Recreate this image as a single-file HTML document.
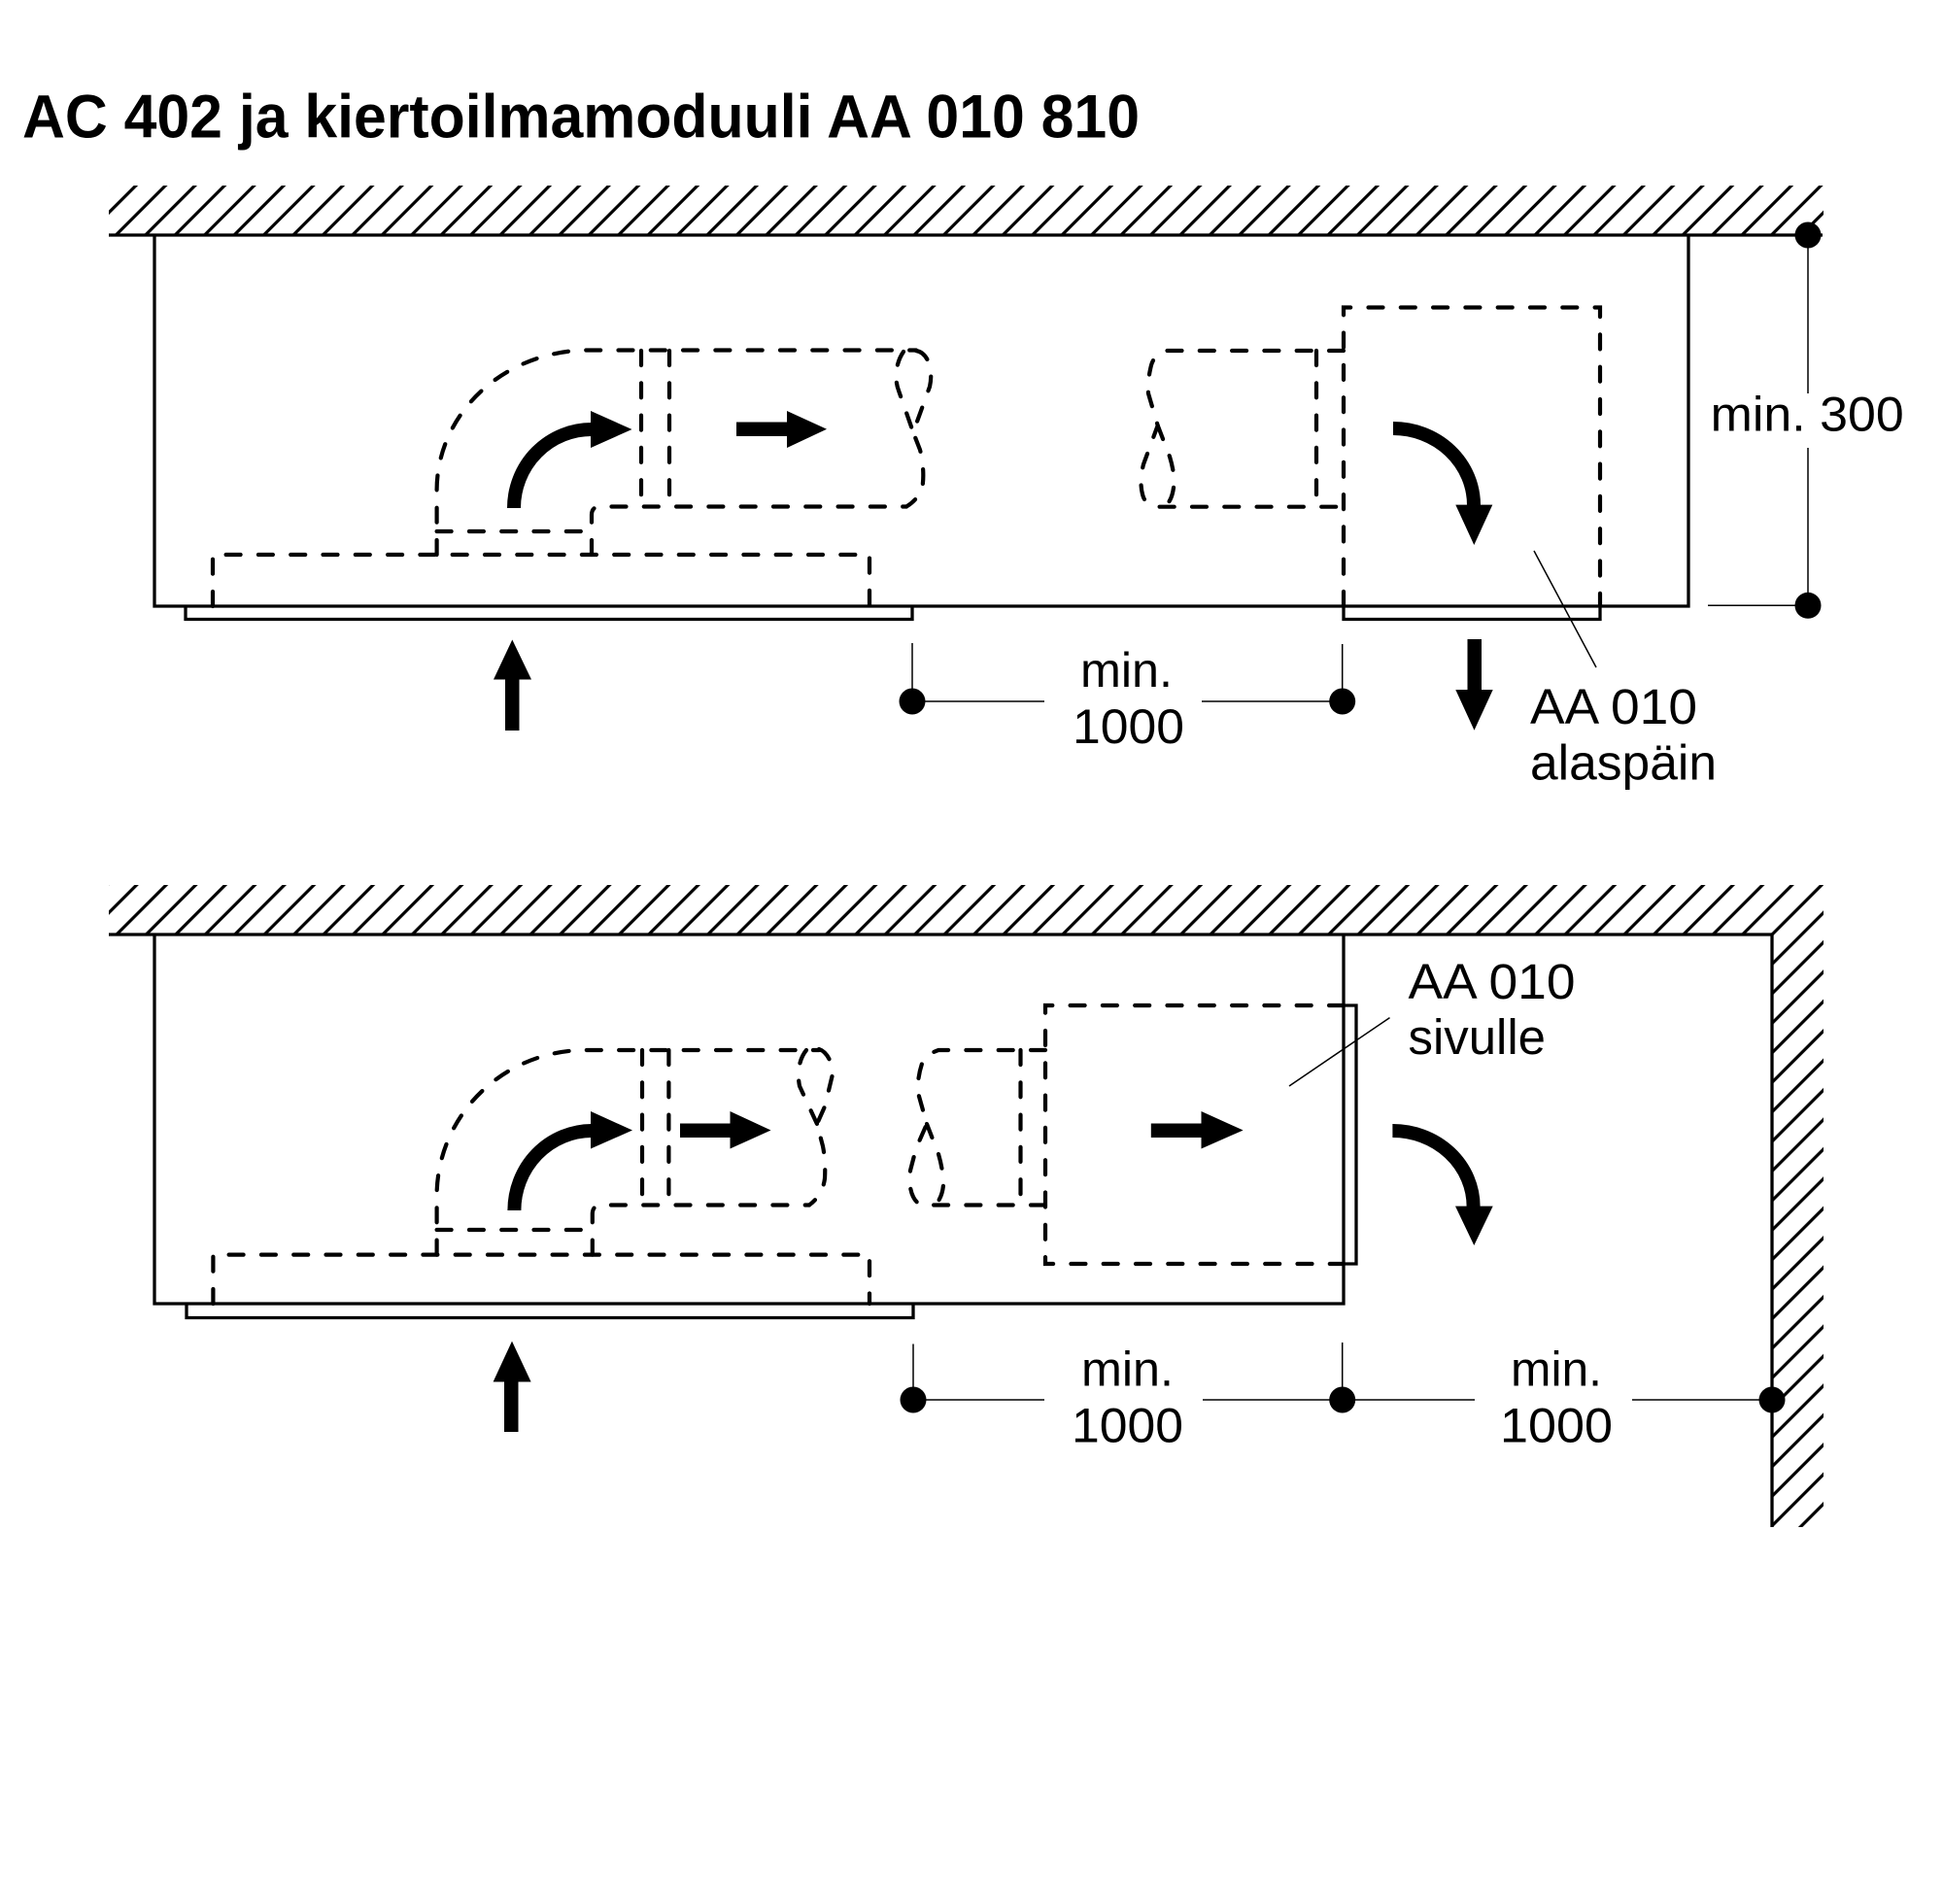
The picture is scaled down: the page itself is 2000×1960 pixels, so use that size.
<!DOCTYPE html>
<html>
<head>
<meta charset="utf-8">
<style>
html,body{margin:0;padding:0;background:#fff;}
svg{display:block;}
text{font-family:"Liberation Sans",Arial,sans-serif;fill:#000;}
</style>
</head>
<body>
<svg width="2000" height="1960" viewBox="0 0 2000 1960" xmlns="http://www.w3.org/2000/svg">
<defs>
  <pattern id="h1" patternUnits="userSpaceOnUse" x="26.57" y="0" width="30.43" height="30.43">
    <path d="M-3,3 L3,-3 M0,30.43 L30.43,0 M27.43,33.43 L33.43,27.43" stroke="#000" stroke-width="3.2" fill="none"/>
  </pattern>
  <pattern id="h2" patternUnits="userSpaceOnUse" x="16.95" y="0" width="30.43" height="30.43">
    <path d="M-3,3 L3,-3 M0,30.43 L30.43,0 M27.43,33.43 L33.43,27.43" stroke="#000" stroke-width="3.2" fill="none"/>
  </pattern>
</defs>

<rect width="2000" height="1960" fill="#fff"/>

<!-- Title -->
<text x="23" y="141.7" font-size="63" font-weight="bold" textLength="1150" lengthAdjust="spacingAndGlyphs">AC 402 ja kiertoilmamoduuli AA 010 810</text>

<!-- ================= TOP DIAGRAM ================= -->
<rect x="112" y="191" width="1765" height="51" fill="url(#h1)"/>

<g fill="none" stroke="#000" stroke-width="3.3">
  <path d="M112,242 H1876"/>
  <path d="M159,242 V624 H1738 V242"/>
  <path d="M191,624 V637.5 H939 V624"/>
  <path d="M1383,624 V637.5 H1647 V624"/>
</g>

<g fill="none" stroke="#000" stroke-width="4.2" stroke-linecap="round" stroke-dasharray="15 18.3">
  <path d="M219,624 V571 H895 V624"/>
  <path d="M449.6,547 H609"/>
  <path d="M449.6,571 V504 A156,144 0 0 1 606,360.5 H943"/>
  <path d="M609,571 V530 Q609,521.5 618,521.5 H933"/>
  <path d="M660,361 V521.5"/>
  <path d="M689,361 V521.5"/>
  <path d="M943,361 C955,363 961,380 957,398 L940,445 L947,463 C951,478 951,495 949,503 Q944,515 933,521.5"/>
  <path d="M930,362 C921,375 921,392 925,402 L940,445"/>
  <path d="M1383,361 H1200 Q1188,365 1185,376 Q1181,392 1182,405 L1191.7,438 L1177,478 Q1172,498 1177,512 Q1181,521.7 1195,521.7 H1383"/>
  <path d="M1191.7,438 L1204,470 Q1210,490 1208,502 Q1206,517 1198,521.7"/>
  <path d="M1355,361 V521.5"/>
  <path d="M1383,624 V316.5 H1647 V624"/>
</g>

<g fill="#000">
  <path d="M529,523 A80,81 0 0 1 609,442" fill="none" stroke="#000" stroke-width="14"/>
  <polygon points="608,423 650.5,442 608,461"/>
  <rect x="758" y="434.5" width="53" height="14.5"/>
  <polygon points="810,423 851,441.7 810,461"/>
  <path d="M1434,441 A83,79 0 0 1 1517,520" fill="none" stroke="#000" stroke-width="14"/>
  <polygon points="1498.3,519.6 1536.3,519.6 1517.3,561"/>
  <rect x="1510.5" y="658" width="14.5" height="53"/>
  <polygon points="1498.3,710 1536.7,710 1517.5,751.7"/>
  <rect x="520" y="698" width="14.5" height="54"/>
  <polygon points="508,699.5 547,699.5 527.3,658.5"/>
</g>

<g fill="none" stroke="#000" stroke-width="1.5">
  <path d="M939,662 V722 H1075"/>
  <path d="M1237,722 H1381.7 V663"/>
  <path d="M1861,242 V405"/>
  <path d="M1861,461 V623"/>
  <path d="M1758,623.3 H1861"/>
  <path d="M1579,567 L1643,687"/>
</g>
<g fill="#000">
  <circle cx="939" cy="722" r="13.5"/>
  <circle cx="1381.7" cy="722" r="13.5"/>
  <circle cx="1861" cy="242" r="13.5"/>
  <circle cx="1861" cy="623.3" r="13.5"/>
</g>

<text x="1760.7" y="443.3" font-size="50" textLength="199" lengthAdjust="spacingAndGlyphs">min. 300</text>
<text x="1112" y="707" font-size="50" textLength="95" lengthAdjust="spacingAndGlyphs">min.</text>
<text x="1104" y="765" font-size="50" textLength="115" lengthAdjust="spacingAndGlyphs">1000</text>
<text x="1575" y="745" font-size="51" textLength="172" lengthAdjust="spacingAndGlyphs">AA 010</text>
<text x="1575" y="802.7" font-size="51" textLength="192" lengthAdjust="spacingAndGlyphs">alaspäin</text>

<!-- ================= BOTTOM DIAGRAM ================= -->
<rect x="112" y="911" width="1765" height="51" fill="url(#h2)"/>
<rect x="1824" y="962" width="53" height="610" fill="url(#h2)"/>

<g fill="none" stroke="#000" stroke-width="3.3">
  <path d="M112,962 H1824 V1572"/>
  <path d="M159,962 V1342 H1383 V962"/>
  <path d="M192,1342 V1356.5 H940 V1342"/>
  <path d="M1383,1035 H1396 V1301 H1383"/>
</g>

<g fill="none" stroke="#000" stroke-width="4.2" stroke-linecap="round" stroke-dasharray="15 18.3">
  <path d="M219.4,1342 V1291.6 H895 V1342"/>
  <path d="M449.6,1266 H609.8"/>
  <path d="M449.6,1291.6 V1231 A153,150 0 0 1 602.6,1081 H843"/>
  <path d="M609.8,1291.6 V1250 Q609.8,1240.5 619,1240.5 H833"/>
  <path d="M661,1081 V1240.5"/>
  <path d="M688.4,1081 V1240.5"/>
  <path d="M843,1080 C852,1083 858,1096 856.5,1108 L849,1139 L841,1157 L847,1180 Q850,1195 849,1213 Q847,1230 833,1240.5"/>
  <path d="M830,1081 C821,1092 821,1108 823,1118 L841,1157"/>
  <path d="M1076,1081 H966 Q952,1086 949,1095 Q944,1110 945,1125 L954,1157 L943,1182 L937,1205 Q935,1222 940,1232 Q944,1240.5 952,1240.5 H1076"/>
  <path d="M954,1157 L966,1188 Q971,1205 971,1220 Q970,1232 963,1240.5"/>
  <path d="M1050.5,1081 V1240.5"/>
  <path d="M1383,1035 H1076 V1301 H1383"/>
</g>

<g fill="#000">
  <path d="M529.4,1246 A80,82 0 0 1 609,1164" fill="none" stroke="#000" stroke-width="14"/>
  <polygon points="608,1144 651,1163.5 608,1182.5"/>
  <rect x="700" y="1156.5" width="52" height="14.5"/>
  <polygon points="751.5,1144 793.5,1163.5 751.5,1182.5"/>
  <rect x="1184.8" y="1156.5" width="52.2" height="14.5"/>
  <polygon points="1236.5,1144 1279.6,1163.5 1236.5,1182.5"/>
  <path d="M1433.4,1164 A83,78 0 0 1 1516.6,1242" fill="none" stroke="#000" stroke-width="14"/>
  <polygon points="1498,1241.6 1536.7,1241.6 1517.3,1282"/>
  <rect x="519" y="1421" width="14.5" height="53"/>
  <polygon points="507.6,1422.5 546.6,1422.5 527,1380.6"/>
</g>

<g fill="none" stroke="#000" stroke-width="1.5">
  <path d="M940,1383.5 V1441 H1075"/>
  <path d="M1238,1441 H1518"/>
  <path d="M1680,1441 H1824"/>
  <path d="M1381.7,1382 V1441"/>
  <path d="M1327,1118 L1430.5,1047.6"/>
</g>
<g fill="#000">
  <circle cx="940" cy="1441" r="13.5"/>
  <circle cx="1381.7" cy="1441" r="13.5"/>
  <circle cx="1824" cy="1441" r="13.5"/>
</g>

<text x="1449.5" y="1028" font-size="51" textLength="172" lengthAdjust="spacingAndGlyphs">AA 010</text>
<text x="1449.5" y="1085" font-size="51" textLength="141.5" lengthAdjust="spacingAndGlyphs">sivulle</text>
<text x="1113" y="1426.5" font-size="50" textLength="95" lengthAdjust="spacingAndGlyphs">min.</text>
<text x="1103" y="1484.5" font-size="50" textLength="115" lengthAdjust="spacingAndGlyphs">1000</text>
<text x="1555" y="1426.5" font-size="50" textLength="94" lengthAdjust="spacingAndGlyphs">min.</text>
<text x="1544" y="1484.5" font-size="50" textLength="116" lengthAdjust="spacingAndGlyphs">1000</text>
</svg>
</body>
</html>
